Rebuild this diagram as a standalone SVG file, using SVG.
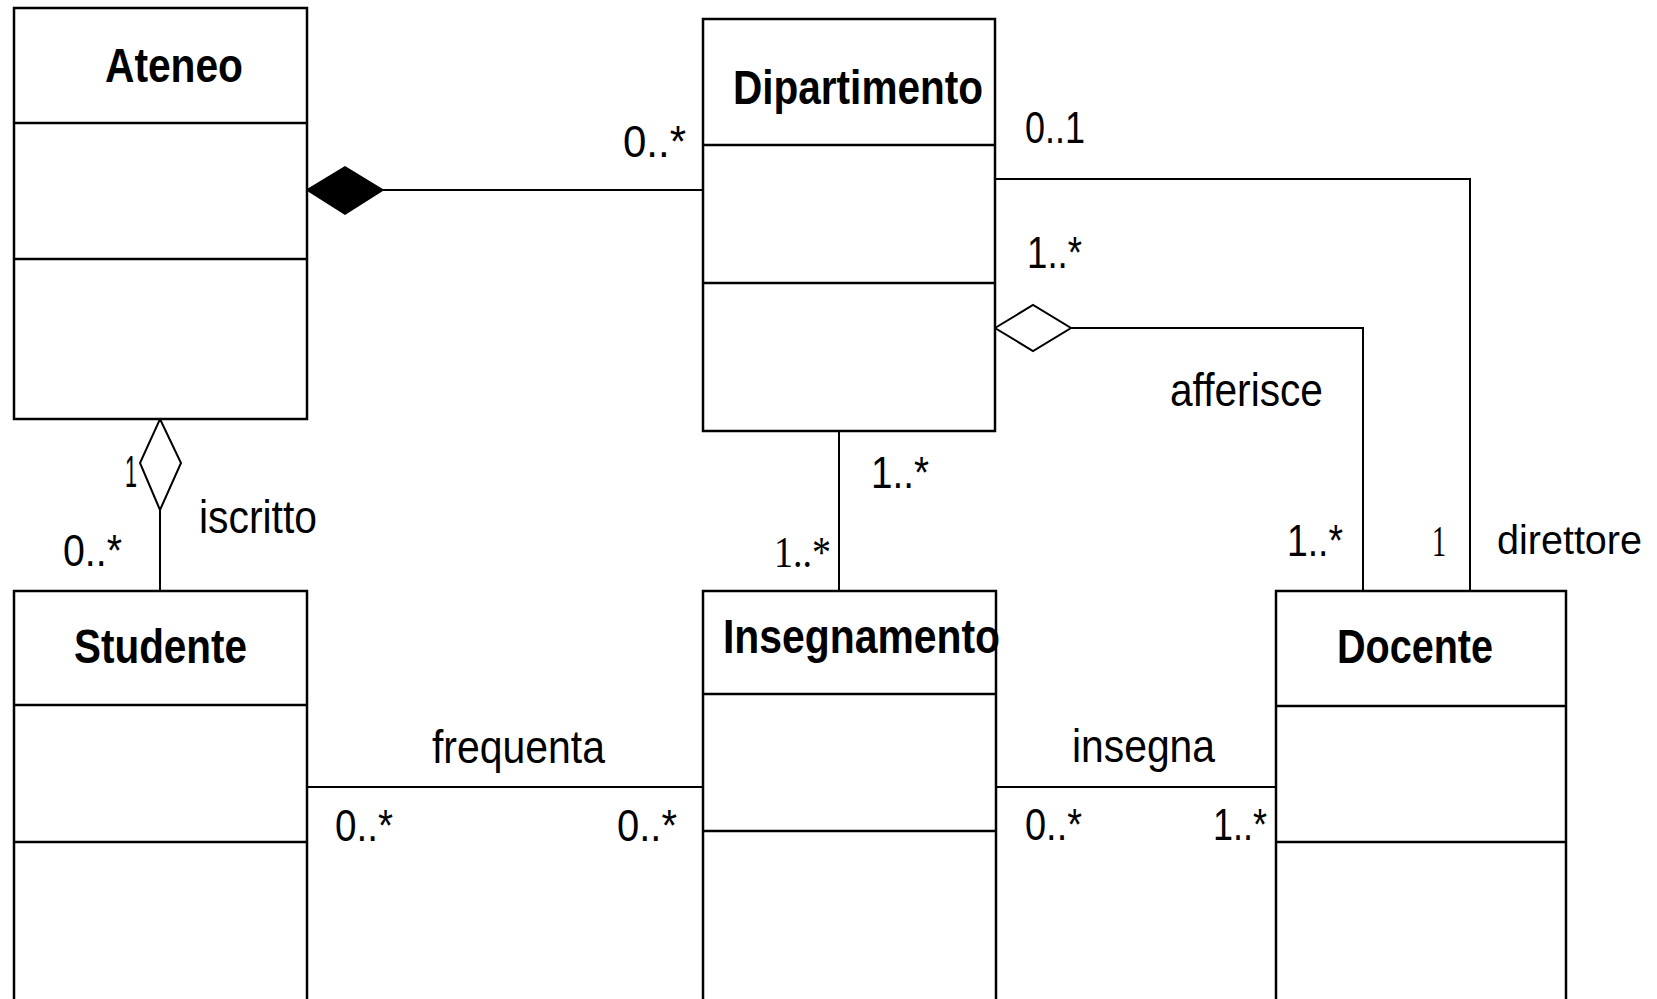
<svg xmlns="http://www.w3.org/2000/svg" width="1657" height="999" viewBox="0 0 1657 999">
<style>
.box{fill:#fff;stroke:#000;stroke-width:2.5}
.div{stroke:#000;stroke-width:2.5}
.con{fill:none;stroke:#000;stroke-width:2}
.title{font-family:"Liberation Sans",Arial,sans-serif;font-weight:bold;font-size:48px;fill:#000}
.mult{font-family:"Liberation Sans",Arial,sans-serif;font-size:44px;fill:#000}
.serif{font-family:"Liberation Serif","Times New Roman",serif;font-size:44px;fill:#000}
.lbl{font-family:"Liberation Sans",Arial,sans-serif;font-size:46px;fill:#000}
</style>
<rect width="1657" height="999" fill="#fff"/>
<g id="connectors">
  <line class="con" x1="383" y1="190" x2="703" y2="190"/>
  <polygon points="307,190 345,167 383,190 345,214" fill="#000" stroke="#000" stroke-width="1.5"/>
  <polyline class="con" points="995,179 1470,179 1470,591"/>
  <polyline class="con" points="1071,328 1363,328 1363,591"/>
  <polygon points="995,328 1033,305 1071,328 1033,351" fill="#fff" stroke="#000" stroke-width="2"/>
  <line class="con" x1="839" y1="431" x2="839" y2="591"/>
  <line class="con" x1="160" y1="510" x2="160" y2="591"/>
  <polygon points="160,419 181,463 160,510 140,463" fill="#fff" stroke="#000" stroke-width="2"/>
  <line class="con" x1="307" y1="787" x2="703" y2="787"/>
  <line class="con" x1="996" y1="787" x2="1276" y2="787"/>
  <text class="mult" x="623" y="157" textLength="63" lengthAdjust="spacingAndGlyphs">0..*</text>
  <text class="mult" x="1025" y="143" textLength="60" lengthAdjust="spacingAndGlyphs">0..1</text>
  <text class="mult" x="1027" y="268" textLength="55" lengthAdjust="spacingAndGlyphs">1..*</text>
  <text class="lbl" x="1170" y="406" textLength="153" lengthAdjust="spacingAndGlyphs">afferisce</text>
  <text class="mult" x="1287" y="556" textLength="56" lengthAdjust="spacingAndGlyphs">1..*</text>
  <text class="serif" x="1432" y="556" textLength="14" lengthAdjust="spacingAndGlyphs">1</text>
  <text class="lbl" x="1497" y="554" style="font-size:40px" textLength="145" lengthAdjust="spacingAndGlyphs">direttore</text>
  <text class="mult" x="871" y="488" textLength="58" lengthAdjust="spacingAndGlyphs">1..*</text>
  <text class="serif" x="774" y="567" textLength="57" lengthAdjust="spacingAndGlyphs">1..*</text>
  <text class="mult" x="125" y="487" textLength="12" lengthAdjust="spacingAndGlyphs">1</text>
  <text class="lbl" x="199" y="533" textLength="118" lengthAdjust="spacingAndGlyphs">iscritto</text>
  <text class="mult" x="63" y="566" textLength="59" lengthAdjust="spacingAndGlyphs">0..*</text>
  <text class="lbl" x="432" y="763" textLength="173" lengthAdjust="spacingAndGlyphs">frequenta</text>
  <text class="mult" x="335" y="841" textLength="58" lengthAdjust="spacingAndGlyphs">0..*</text>
  <text class="mult" x="617" y="841" textLength="60" lengthAdjust="spacingAndGlyphs">0..*</text>
  <text class="lbl" x="1072" y="762" textLength="143" lengthAdjust="spacingAndGlyphs">insegna</text>
  <text class="mult" x="1025" y="840" textLength="57" lengthAdjust="spacingAndGlyphs">0..*</text>
  <text class="mult" x="1213" y="840" textLength="54" lengthAdjust="spacingAndGlyphs">1..*</text>
</g>
<g id="ateneo">
  <rect class="box" x="14" y="8" width="293" height="411"/>
  <line class="div" x1="14" y1="123" x2="307" y2="123"/>
  <line class="div" x1="14" y1="259" x2="307" y2="259"/>
  <text class="title" x="105" y="82" textLength="138" lengthAdjust="spacingAndGlyphs">Ateneo</text>
</g>
<g id="dipartimento">
  <rect class="box" x="703" y="19" width="292" height="412"/>
  <line class="div" x1="703" y1="145" x2="995" y2="145"/>
  <line class="div" x1="703" y1="283" x2="995" y2="283"/>
  <text class="title" x="733" y="104" textLength="250" lengthAdjust="spacingAndGlyphs">Dipartimento</text>
</g>
<g id="studente">
  <rect class="box" x="14" y="591" width="293" height="430"/>
  <line class="div" x1="14" y1="705" x2="307" y2="705"/>
  <line class="div" x1="14" y1="842" x2="307" y2="842"/>
  <text class="title" x="74" y="663" textLength="173" lengthAdjust="spacingAndGlyphs">Studente</text>
</g>
<g id="insegnamento">
  <rect class="box" x="703" y="591" width="293" height="430"/>
  <line class="div" x1="703" y1="694" x2="996" y2="694"/>
  <line class="div" x1="703" y1="831" x2="996" y2="831"/>
  <text class="title" x="723" y="653" textLength="277" lengthAdjust="spacingAndGlyphs">Insegnamento</text>
</g>
<g id="docente">
  <rect class="box" x="1276" y="591" width="290" height="430"/>
  <line class="div" x1="1276" y1="706" x2="1566" y2="706"/>
  <line class="div" x1="1276" y1="842" x2="1566" y2="842"/>
  <text class="title" x="1337" y="663" textLength="156" lengthAdjust="spacingAndGlyphs">Docente</text>
</g>
</svg>
